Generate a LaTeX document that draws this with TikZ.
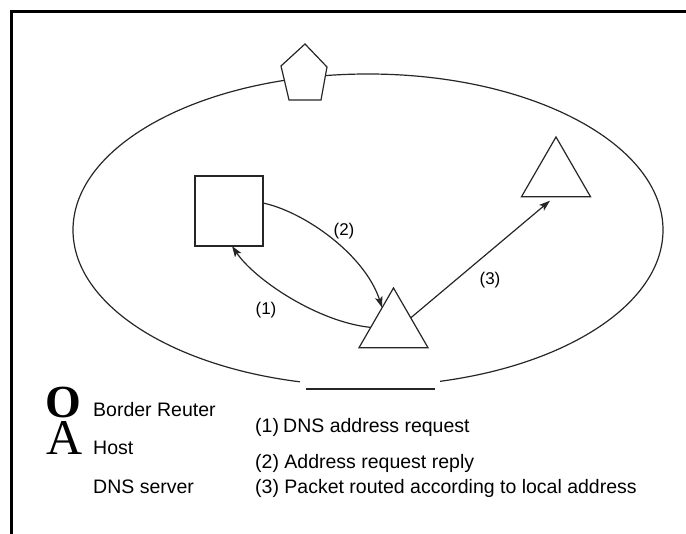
\documentclass[tikz,border=0pt]{standalone}
\usepackage{fontspec}
\setmainfont{Liberation Sans}
\newfontfamily\glyphfont{Liberation Serif}
\usetikzlibrary{shapes.geometric,arrows.meta,calc}

\begin{document}
\begin{tikzpicture}[x=1pt,y=-1pt,
  outline/.style={draw=black!85, line width=1.2pt},
  boxnode/.style={outline, fill=white, minimum width=68pt, minimum height=70pt, inner sep=0pt, outer sep=0pt},
  trinode/.style={outline, fill=white, regular polygon, regular polygon sides=3,
    minimum size=79.7pt, inner sep=0pt, outer sep=0pt},
  link/.style={draw=black!85, line width=1.2pt, -{Stealth[length=11pt,width=7.5pt,inset=2.5pt]}},
  tag/.style={font=\fontsize{17}{20}\selectfont, inner sep=0pt},
  legendtext/.style={font=\fontsize{19.5}{23}\selectfont, anchor=base west, inner sep=0pt},
  legendglyph/.style={anchor=base west, inner sep=0pt},
]
\useasboundingbox (0,0) rectangle (686,534);
\clip (0,0) rectangle (686,534);

% outer frame (top and left edges)
\draw[line width=3pt] (11.5,560) -- (11.5,11.5) -- (700,11.5);

% network boundary
\draw[outline] (368,230) ellipse [x radius=295, y radius=156];
\fill[white] (300,376) rectangle (440,395);
\draw[outline] (306,389) -- (435,389);

% border router on the boundary
\draw[outline, fill=white] (305,44) -- (327,67) -- (321,100) -- (289,100) -- (281,66) -- cycle;

% DNS server and hosts
\node[boxnode] (dns) at (229,211) {};
\node[trinode] (host) at (393.5,327.8) {};
\node[trinode] (dest) at (556,176.8) {};

% message flows
\draw[link] ($(host.corner 1)!0.66!(host.corner 2)$)
  .. controls (318,322) and (255,280) .. ([xshift=3pt]dns.south);
\draw[link] ([yshift=8pt]dns.east)
  .. controls (305,212) and (365,255) .. ($(host.corner 1)!0.33!(host.corner 2)$);
\draw[link] ($(host.corner 1)!0.5!(host.corner 3)$) -- ([xshift=-6pt,yshift=-4pt]dest.side 2);

\node[tag] (l1) at (266,310) {(1)};
\node[tag] (l2) at (344,231) {(2)};
\node[tag] (l3) at (490,280) {(3)};

% legend
\node[legendglyph, font=\glyphfont\bfseries\fontsize{46}{46}\selectfont] (symO) at (45,418) {O};
\node[legendglyph, font=\glyphfont\fontsize{50}{50}\selectfont] (symA) at (46,455) {A};
\node[legendtext] (k1) at (93,417) {Border Reuter};
\node[legendtext] (k2) at (93,455) {Host};
\node[legendtext] (k3) at (93,494) {DNS server};

\node[legendtext] (m1) at (255,433) {\makebox[28pt][l]{(1)}DNS address request};
\node[legendtext] (m2) at (255,469) {(2) Address request reply};
\node[legendtext] (m3) at (255,494) {(3) Packet routed according to local address};
\end{tikzpicture}
\end{document}
